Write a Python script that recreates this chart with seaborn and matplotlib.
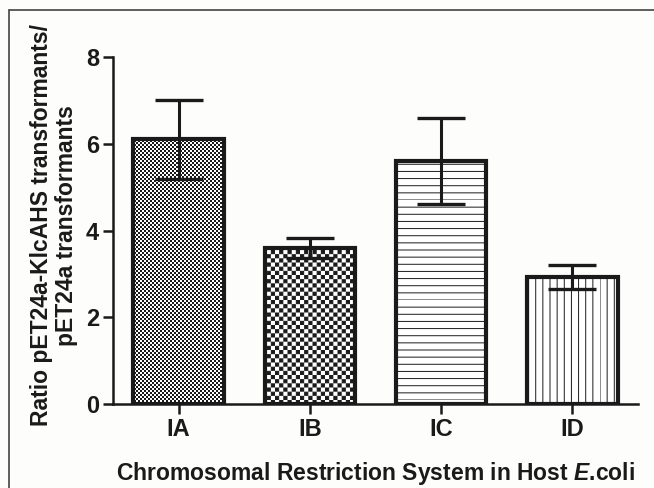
import warnings
import numpy as np
import matplotlib
matplotlib.use("Agg")
import matplotlib.pyplot as plt
import matplotlib.hatch as mhatch
from matplotlib.lines import Line2D
from matplotlib.path import Path
import seaborn as sns

warnings.filterwarnings("ignore")

groups = ["IA", "IB", "IC", "ID"]
ratio_mean = [6.1, 3.6, 5.6, 2.93]
ratio_sem = [0.92, 0.23, 1.0, 0.28]
yticks = [0, 2, 4, 6, 8]

ylabel = "Ratio pET24a-KlcAHS transformants/\npET24a transformants"
xlabel = "Chromosomal Restriction System in Host $\\mathit{E}$.coli"

DPI = 100
HATCH_LW = 0.7  # points


class GraphPadHatch(mhatch.HatchPatternBase):
    # 'c' = one checker period, 'h'/'v' = 7 lines per hatch tile
    def __init__(self, hatch, density):
        self.nc = hatch.count("c") * 2
        self.nh = hatch.count("h") * 7
        self.nv = hatch.count("v") * 7
        self.nsq = (self.nc * self.nc + 1) // 2 if self.nc else 0
        self.num_vertices = self.nsq * 5 + (self.nh + self.nv) * 2

    def set_vertices_and_codes(self, vertices, codes):
        k = 0
        if self.nc:
            d = 0.5 * HATCH_LW / 72.0  # shrink squares by half the stroke
            n = self.nc
            for i in range(n):
                for j in range(n):
                    if (i + j) % 2:
                        continue
                    x0, x1 = i / n + d, (i + 1) / n - d
                    y0, y1 = j / n + d, (j + 1) / n - d
                    vertices[k:k + 5] = [[x0, y0], [x1, y0], [x1, y1], [x0, y1], [x0, y0]]
                    codes[k:k + 5] = [Path.MOVETO, Path.LINETO, Path.LINETO,
                                      Path.LINETO, Path.CLOSEPOLY]
                    k += 5
        for i in range(self.nh):
            y = i / self.nh
            vertices[k:k + 2] = [[0, y], [1, y]]
            codes[k:k + 2] = [Path.MOVETO, Path.LINETO]
            k += 2
        for i in range(self.nv):
            x = i / self.nv
            vertices[k:k + 2] = [[x, 0], [x, 1]]
            codes[k:k + 2] = [Path.MOVETO, Path.LINETO]
            k += 2


mhatch._hatch_types.append(GraphPadHatch)
bar_hatches = ["c" * 25, "c" * 12, "hh", "vv"]

sns.set_style("ticks")
plt.rcParams["font.family"] = ["Liberation Sans", "DejaVu Sans"]
plt.rcParams["font.weight"] = "bold"
plt.rcParams["mathtext.fontset"] = "custom"
plt.rcParams["mathtext.it"] = "Liberation Sans:italic:bold"
plt.rcParams["mathtext.rm"] = "Liberation Sans:bold"
plt.rcParams["hatch.linewidth"] = HATCH_LW
plt.rcParams["hatch.color"] = "#1a1a1a"

ink = "#1a1a1a"
fig = plt.figure(figsize=(6.54, 4.88), dpi=DPI, facecolor="#fdfdfb")
ax = fig.add_axes([113 / 654, 1 - 404 / 488, 525 / 654, 347 / 488])
ax.set_facecolor("#fdfdfb")

sns.barplot(x=groups, y=ratio_mean, width=0.69, color="white", errorbar=None, ax=ax)
for bar, h in zip(ax.patches, bar_hatches):
    bar.set_hatch(h)
    bar.set_edgecolor(ink)
    bar.set_facecolor("white")
    bar.set_linewidth(3)

ax.errorbar(x=np.arange(len(groups)), y=ratio_mean, yerr=ratio_sem, fmt="none",
            ecolor=ink, elinewidth=2.2, capsize=17, capthick=2.4, zorder=4)

ax.set_xlim(-0.5, len(groups) - 0.5)
ax.set_ylim(0, 8)
ax.set_yticks(yticks)
sns.despine(ax=ax)
for s in ("left", "bottom"):
    ax.spines[s].set_linewidth(1.8)
    ax.spines[s].set_color(ink)
ax.tick_params(axis="both", length=7, width=1.8, color=ink, labelsize=17, pad=3,
               labelcolor=ink)

ax.set_ylabel(ylabel, fontsize=16.5, fontweight="bold", linespacing=1.15, color=ink)
ax.yaxis.set_label_coords(-0.066, 0.515)
ax.set_xlabel(xlabel, fontsize=16.5, fontweight="bold", color=ink)
ax.xaxis.set_label_coords(0.5, -0.16)

# thin frame of the original figure panel
fig.add_artist(Line2D([9 / 654, 1], [1 - 10 / 488] * 2, transform=fig.transFigure,
                      color="#444444", lw=1.2))
fig.add_artist(Line2D([9 / 654] * 2, [0, 1 - 10 / 488], transform=fig.transFigure,
                      color="#444444", lw=1.2))

fig.savefig("out.png", dpi=DPI, facecolor=fig.get_facecolor())
plt.close(fig)
